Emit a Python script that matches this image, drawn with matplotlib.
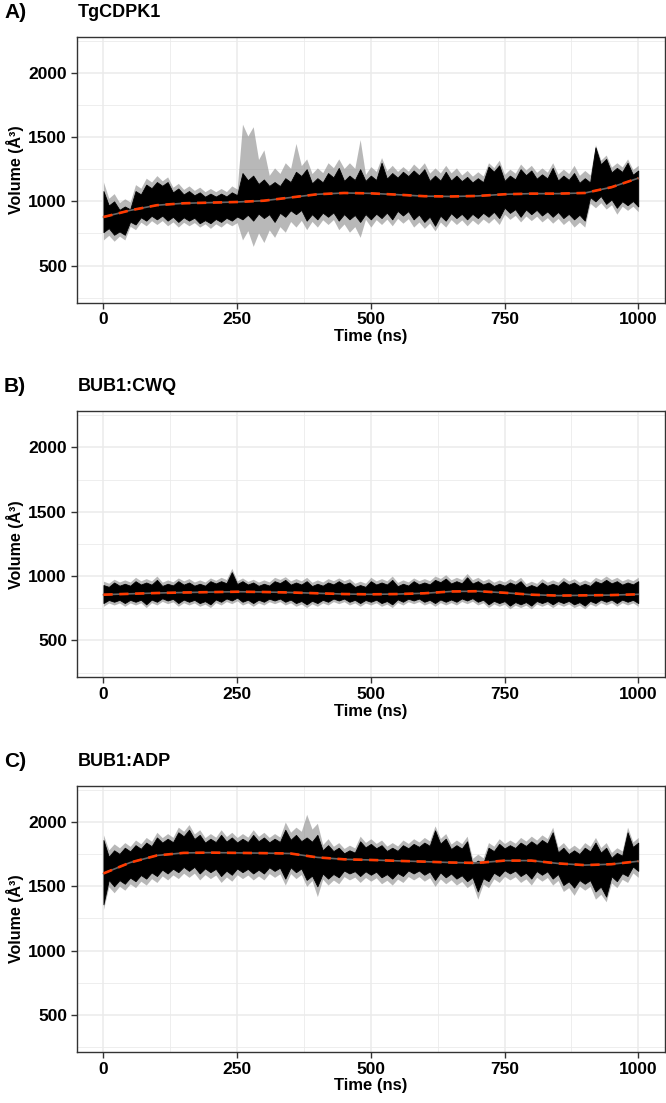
import numpy as np
import matplotlib
matplotlib.use('Agg')
import matplotlib.pyplot as plt

plt.rcParams['font.family'] = ['Liberation Sans', 'DejaVu Sans']
plt.rcParams['font.weight'] = 'bold'

time = np.arange(0, 1001, 20)
time_fit = np.arange(0, 1001, 50)

panel_tags = ['A)', 'B)', 'C)']
panel_names = ['TgCDPK1', 'BUB1:CWQ', 'BUB1:ADP']

# TgCDPK1
a_hi = [1080, 1000, 960, 1080, 1130, 1150, 1150, 1100, 1080, 1070, 1060, 1060, 1070, 1220, 1200, 1170, 1150,
        1180, 1230, 1250, 1180, 1220, 1260, 1200, 1250, 1200, 1300, 1220, 1230, 1240, 1250, 1200, 1230, 1200,
        1190, 1180, 1270, 1280, 1200, 1250, 1240, 1210, 1260, 1200, 1220, 1180, 1420, 1330, 1260, 1300, 1240]
a_lo = [760, 740, 740, 820, 850, 860, 850, 840, 850, 830, 830, 840, 850, 860, 850, 870, 840,
        880, 900, 850, 860, 880, 850, 860, 840, 860, 870, 860, 890, 860, 840, 810, 850, 870,
        860, 870, 880, 870, 910, 880, 900, 890, 880, 870, 860, 850, 1000, 980, 950, 970, 960]
a_ghi = [1150, 1060, 1020, 1130, 1180, 1200, 1190, 1140, 1120, 1110, 1100, 1100, 1120, 1600, 1580, 1400, 1260,
         1300, 1450, 1330, 1260, 1300, 1330, 1300, 1480, 1270, 1340, 1280, 1270, 1290, 1300, 1260, 1280, 1260,
         1240, 1230, 1300, 1320, 1250, 1290, 1280, 1260, 1300, 1250, 1280, 1240, 1440, 1360, 1300, 1330, 1280]
a_glo = [700, 690, 700, 780, 810, 820, 810, 800, 810, 800, 790, 800, 810, 700, 650, 680, 720,
         760, 800, 780, 800, 820, 780, 760, 720, 800, 820, 810, 830, 800, 790, 770, 800, 820,
         810, 820, 830, 820, 860, 840, 850, 840, 830, 820, 800, 800, 950, 940, 900, 930, 920]
a_fit = [878, 930, 970, 985, 990, 995, 1005, 1030, 1055, 1065, 1062, 1052, 1040, 1038, 1042, 1055,
         1060, 1060, 1065, 1110, 1180]

# BUB1:CWQ
b_hi = [930, 950, 940, 960, 950, 970, 940, 960, 950, 940, 960, 960, 1030, 960, 950, 940, 960,
        970, 950, 960, 940, 950, 960, 950, 930, 960, 950, 970, 940, 960, 950, 970, 980, 960,
        990, 960, 950, 940, 950, 960, 930, 950, 940, 960, 950, 940, 960, 970, 960, 950, 960]
b_lo = [790, 800, 790, 800, 780, 800, 810, 790, 800, 790, 780, 800, 810, 800, 790, 800, 810,
        800, 790, 780, 790, 800, 810, 800, 790, 800, 790, 780, 800, 810, 800, 790, 800, 800,
        810, 800, 780, 790, 770, 780, 770, 790, 780, 790, 780, 770, 790, 800, 790, 800, 790]
b_ghi = [960, 975, 970, 990, 980, 1000, 970, 985, 980, 970, 985, 990, 1060, 985, 975, 970, 990,
         995, 980, 990, 970, 980, 985, 980, 960, 990, 980, 1000, 970, 985, 980, 1000, 1010, 990,
         1020, 990, 980, 970, 980, 990, 960, 980, 970, 990, 980, 970, 990, 1000, 990, 980, 990]
b_glo = [765, 775, 765, 775, 755, 775, 785, 765, 775, 765, 755, 775, 785, 775, 765, 775, 785,
         775, 765, 755, 765, 775, 785, 775, 765, 775, 765, 755, 775, 785, 775, 765, 775, 775,
         785, 775, 755, 765, 745, 755, 745, 765, 755, 765, 755, 745, 765, 775, 765, 775, 765]
b_fit = [855, 862, 868, 872, 875, 878, 876, 872, 866, 860, 858, 860, 866, 880, 882, 870,
         855, 848, 850, 852, 858]

# BUB1:ADP
c_hi = [1860, 1780, 1800, 1820, 1840, 1880, 1870, 1920, 1940, 1900, 1870, 1900, 1880, 1870, 1900, 1880, 1870,
        1940, 1900, 1880, 1900, 1820, 1800, 1780, 1850, 1830, 1820, 1800, 1820, 1830, 1840, 1935, 1870, 1820,
        1850, 1700, 1800, 1830, 1820, 1840, 1850, 1860, 1920, 1800, 1780, 1800, 1840, 1800, 1760, 1920, 1840]
c_lo = [1360, 1500, 1520, 1540, 1560, 1580, 1600, 1610, 1620, 1600, 1610, 1580, 1590, 1610, 1600, 1600, 1620,
        1560, 1610, 1550, 1500, 1560, 1570, 1600, 1580, 1590, 1570, 1560, 1580, 1600, 1590, 1550, 1570, 1560,
        1540, 1460, 1540, 1580, 1600, 1580, 1560, 1590, 1560, 1510, 1490, 1520, 1460, 1420, 1540, 1580, 1620]
c_ghi = [1900, 1830, 1840, 1860, 1880, 1920, 1910, 1960, 1980, 1940, 1910, 1940, 1920, 1910, 1940, 1920, 1910,
         2000, 1960, 2060, 1990, 1870, 1840, 1820, 1890, 1870, 1860, 1840, 1860, 1870, 1880, 1970, 1910, 1860,
         1890, 1750, 1840, 1870, 1860, 1880, 1890, 1900, 1960, 1840, 1820, 1840, 1880, 1840, 1800, 1960, 1880]
c_glo = [1320, 1450, 1470, 1490, 1510, 1530, 1550, 1560, 1570, 1550, 1560, 1530, 1540, 1560, 1550, 1550, 1570,
         1510, 1560, 1500, 1420, 1510, 1520, 1550, 1530, 1540, 1520, 1510, 1530, 1550, 1540, 1500, 1520, 1510,
         1490, 1400, 1490, 1530, 1550, 1530, 1510, 1540, 1510, 1460, 1430, 1470, 1400, 1380, 1490, 1530, 1570]
c_fit = [1600, 1685, 1740, 1760, 1762, 1760, 1758, 1755, 1725, 1710, 1705, 1698, 1692, 1685, 1682, 1700,
         1700, 1678, 1665, 1672, 1695]

his = [a_hi, b_hi, c_hi]
los = [a_lo, b_lo, c_lo]
ghis = [a_ghi, b_ghi, c_ghi]
glos = [a_glo, b_glo, c_glo]
fits = [a_fit, b_fit, c_fit]


def jagged(t, lo, hi, depth):
    # edges reach the read extremes at each sample and dip slightly in between
    lo = np.asarray(lo, dtype=float)
    hi = np.asarray(hi, dtype=float)
    span = hi - lo
    tt = np.empty(2 * len(t) - 1)
    top = np.empty_like(tt)
    bot = np.empty_like(tt)
    tt[0::2] = t
    tt[1::2] = (t[:-1] + t[1:]) / 2
    top[0::2] = hi
    bot[0::2] = lo
    top[1::2] = np.minimum(hi[:-1], hi[1:]) - depth * span[:-1]
    bot[1::2] = np.maximum(lo[:-1], lo[1:]) + depth * span[:-1]
    return tt, bot, top


# ------ figure
W, H = 666, 1103
fig = plt.figure(figsize=(W / 100, H / 100), dpi=100)

SPINE = '#333333'
GRID = '#EBEBEB'
RED = '#FF3A00'

ax_left, ax_w, ax_h = 76.7, 588.3, 266
tops = [36.7, 411.4, 786]

for i in range(3):
    top = tops[i]
    ax = fig.add_axes([ax_left / W, (H - top - ax_h) / H, ax_w / W, ax_h / H])

    # grey spread
    tg, gb, gt = jagged(time, glos[i], ghis[i], 0.08)
    ax.fill_between(tg, gb, gt, color='#7f7f7f', alpha=0.55, lw=0, zorder=2)

    # black trace
    tb, bb, bt = jagged(time, los[i], his[i], 0.1)
    ax.fill_between(tb, bb, bt, color='black', lw=0.6, edgecolor='black', zorder=3)

    # smooth fit: grey line under red dashes
    ax.plot(time_fit, fits[i], color='#666666', lw=1.2, zorder=4)
    ax.plot(time_fit, fits[i], color=RED, lw=1.9, ls=(0, (3.5, 2.5)), zorder=5)

    ax.set_xlim(-50, 1050)
    ax.set_ylim(212, 2280)
    ax.set_xticks([0, 250, 500, 750, 1000])
    ax.set_xticks([125, 375, 625, 875], minor=True)
    ax.set_yticks([500, 1000, 1500, 2000])
    ax.set_yticks([250, 750, 1250, 1750, 2250], minor=True)
    ax.grid(which='major', color=GRID, lw=1.1, zorder=0)
    ax.grid(which='minor', color=GRID, lw=0.6, zorder=0)
    ax.set_axisbelow(True)
    ax.tick_params(which='major', length=4, width=1, color=SPINE, labelsize=12.5,
                   labelcolor='black', pad=3)
    ax.tick_params(which='minor', length=0)
    for lab in ax.get_xticklabels() + ax.get_yticklabels():
        lab.set_fontweight('bold')
    for sp in ax.spines.values():
        sp.set_edgecolor(SPINE)
        sp.set_linewidth(1.0)
    ax.set_xlabel('Time (ns)', fontsize=12, fontweight='bold', labelpad=1)
    ax.set_ylabel('Volume (Å³)', fontsize=11.5, fontweight='bold', labelpad=3)

    ty = (H - top + 24.5) / H
    fig.text(4 / W, ty, panel_tags[i], fontsize=15, fontweight='bold', va='center', ha='left')
    fig.text(78 / W, ty, panel_names[i], fontsize=13, fontweight='bold', va='center', ha='left')

fig.savefig('out.png', dpi=100, facecolor='white')
